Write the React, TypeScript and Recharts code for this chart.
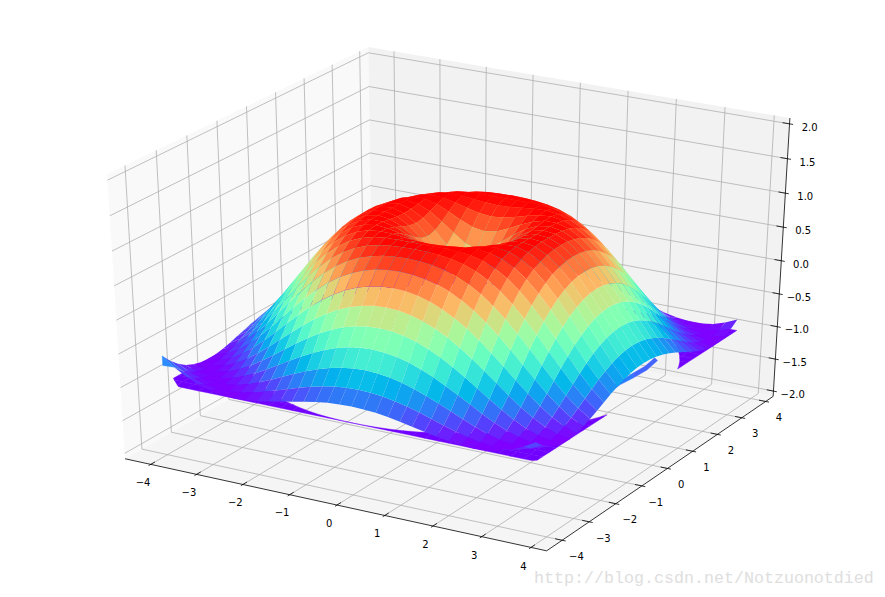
import React from 'react';
import { ScatterChart, Scatter, XAxis, YAxis } from 'recharts';

const WIDTH = 885;
const HEIGHT = 597;

const xTicks = [-4, -3, -2, -1, 0, 1, 2, 3, 4];
const yTicks = [-4, -3, -2, -1, 0, 1, 2, 3, 4];
const zTicks = [-2, -1.5, -1, -0.5, 0, 0.5, 1, 1.5, 2];
const xLim = [-4.3875, 4.1375];
const yLim = [-4.3875, 4.1375];
const zLim = [-2, 2];

const gridValues = [
  -4, -3.75, -3.5, -3.25, -3, -2.75, -2.5, -2.25, -2, -1.75, -1.5, -1.25, -1, -0.75, -0.5, -0.25,
  0, 0.25, 0.5, 0.75, 1, 1.25, 1.5, 1.75, 2, 2.25, 2.5, 2.75, 3, 3.25, 3.5, 3.75,
];

// surface height by |x|/0.25 (row) and |y|/0.25 (column)
const zRows = [
  [0, 0.247, 0.479, 0.682, 0.841, 0.949, 0.997, 0.984, 0.909, 0.778, 0.598, 0.381, 0.141, -0.108, -0.351, -0.572, -0.757],
  [0.247, 0.346, 0.53, 0.711, 0.858, 0.957, 0.999, 0.981, 0.903, 0.769, 0.589, 0.372, 0.131, -0.118, -0.36, -0.579, -0.762],
  [0.479, 0.53, 0.65, 0.784, 0.899, 0.975, 1, 0.969, 0.882, 0.742, 0.558, 0.339, 0.1, -0.146, -0.384, -0.599, -0.776],
  [0.682, 0.711, 0.784, 0.873, 0.949, 0.994, 0.994, 0.945, 0.844, 0.696, 0.507, 0.287, 0.049, -0.192, -0.424, -0.631, -0.8],
  [0.841, 0.858, 0.899, 0.949, 0.988, 1, 0.973, 0.903, 0.787, 0.628, 0.434, 0.214, -0.021, -0.256, -0.478, -0.674, -0.832],
  [0.949, 0.957, 0.975, 0.994, 1, 0.981, 0.928, 0.836, 0.706, 0.537, 0.339, 0.12, -0.108, -0.335, -0.544, -0.725, -0.868],
  [0.997, 0.999, 1, 0.994, 0.973, 0.928, 0.853, 0.742, 0.598, 0.424, 0.224, 0.009, -0.211, -0.424, -0.618, -0.782, -0.904],
  [0.984, 0.981, 0.969, 0.945, 0.903, 0.836, 0.742, 0.618, 0.465, 0.287, 0.09, -0.118, -0.326, -0.522, -0.697, -0.84, -0.941],
  [0.909, 0.903, 0.882, 0.844, 0.787, 0.706, 0.598, 0.465, 0.308, 0.131, -0.06, -0.256, -0.449, -0.625, -0.776, -0.895, -0.971],
  [0.778, 0.769, 0.742, 0.696, 0.628, 0.537, 0.424, 0.287, 0.131, -0.04, -0.22, -0.4, -0.572, -0.725, -0.853, -0.943, -0.993],
  [0.598, 0.589, 0.558, 0.507, 0.434, 0.339, 0.224, 0.09, -0.06, -0.22, -0.384, -0.544, -0.691, -0.818, -0.917, -0.979, -1],
  [0.381, 0.372, 0.339, 0.287, 0.214, 0.12, 0.009, -0.118, -0.256, -0.4, -0.544, -0.68, -0.8, -0.898, -0.966, -0.998, -0.99],
  [0.141, 0.131, 0.1, 0.049, -0.021, -0.108, -0.211, -0.326, -0.449, -0.572, -0.691, -0.8, -0.891, -0.958, -0.995, -0.996, -0.959],
  [-0.108, -0.118, -0.146, -0.192, -0.256, -0.335, -0.424, -0.522, -0.625, -0.725, -0.818, -0.898, -0.958, -0.993, -0.998, -0.97, -0.905],
  [-0.351, -0.36, -0.384, -0.424, -0.478, -0.544, -0.618, -0.697, -0.776, -0.853, -0.917, -0.966, -0.995, -0.998, -0.972, -0.914, -0.825],
  [-0.572, -0.579, -0.599, -0.631, -0.674, -0.725, -0.782, -0.84, -0.895, -0.943, -0.979, -0.998, -0.996, -0.97, -0.914, -0.832, -0.719],
  [-0.757, -0.762, -0.776, -0.8, -0.832, -0.868, -0.904, -0.941, -0.971, -0.993, -1, -0.99, -0.959, -0.905, -0.825, -0.719, -0.584],
];

// filled contour band lying on the plane z = -1
const contourPlane = -1;
const lowBandRange = [-1.01, -0.75];
const lowBandColor = '#7000ff';

// stray blue pieces of the next contour level as (x, y, z)
const sliverLeft = [[3.25, -0.25, -1], [3.23, 0.1, -1], [3.27, 0.53, -1], [3.145, 0.76, -1], [3.13, 0.28, -1], [3.145, -0.13, -1]];
const sliverRight = [[3.27, 0.53, -1], [3.29, 1.02, -1], [3.225, 1.57, -1], [3.105, 1.68, -1], [3.165, 1.18, -1], [3.145, 0.76, -1]];
const cornerWedge = [[-4, -4, -0.584], [-4, -4, -0.73], [-3.75, -4, -0.719]];
const sliverColors = ['#2a7cff', '#4464ff', '#2a8cff'];

const watermark = 'http://blog.csdn.net/Notzuonotdied';

const ELEV = (30 * Math.PI) / 180;
const AZIM = (-60 * Math.PI) / 180;
const DIST = 10;
const n = [Math.cos(ELEV) * Math.cos(AZIM), Math.cos(ELEV) * Math.sin(AZIM), Math.sin(ELEV)];
const u = [-Math.sin(AZIM), Math.cos(AZIM), 0];
const v = [n[1] * u[2] - n[2] * u[1], n[2] * u[0] - n[0] * u[2], n[0] * u[1] - n[1] * u[0]];
const dot = (a: number[], b: number[]) => a[0] * b[0] + a[1] * b[1] + a[2] * b[2];

const unit = (val: number, lim: number[]) => (val - lim[0]) / (lim[1] - lim[0]) - 0.5;

// unit-cube coords -> page pixels, fitted on the pane corners
const projectUnit = (p: number[]) => {
  const w = DIST - dot(n, p);
  return [454.3 + (4672 * dot(u, p)) / w, 290 - (3118 * dot(v, p)) / w];
};
const project = (x: number, y: number, z: number) => projectUnit([unit(x, xLim), unit(y, yLim), unit(z, zLim)]);

const zAt = (x: number, y: number) => zRows[Math.round(Math.abs(x) * 4)][Math.round(Math.abs(y) * 4)];

const rainbow = (t: number) => {
  const r = Math.abs(2 * t - 0.5);
  const g = Math.sin(t * Math.PI);
  const b = Math.cos((t * Math.PI) / 2);
  const c = (a: number) => Math.round(Math.min(1, Math.max(0, a)) * 255);
  return `rgb(${c(r)},${c(g)},${c(b)})`;
};

const mark = (pts: number[][], style: any) => ({
  sx: pts.reduce((s, q) => s + q[0], 0) / pts.length,
  sy: pts.reduce((s, q) => s + q[1], 0) / pts.length,
  pts,
  ...style,
});

// panes
const E = 0.5 + 1 / 48;
const paneItems = [
  mark([[-E, -E, -E], [-E, E, -E], [-E, E, E], [-E, -E, E]].map(projectUnit), { fill: '#f9f9f9' }),
  mark([[-E, E, -E], [E, E, -E], [E, E, E], [-E, E, E]].map(projectUnit), { fill: '#f2f2f2' }),
  mark([[-E, -E, -E], [E, -E, -E], [E, E, -E], [-E, E, -E]].map(projectUnit), { fill: '#f5f5f5' }),
];

// grid lines
const GRID = { stroke: '#b0b0b0', lineWidth: 0.8 };
const gridItems = [
  ...xTicks.map((t) => {
    const a = unit(t, xLim);
    return mark([[a, -E, -E], [a, E, -E], [a, E, E]].map(projectUnit), GRID);
  }),
  ...yTicks.map((t) => {
    const a = unit(t, yLim);
    return mark([[E, a, -E], [-E, a, -E], [-E, a, E]].map(projectUnit), GRID);
  }),
  ...zTicks.map((t) => {
    const a = unit(t, zLim);
    return mark([[-E, -E, a], [-E, E, a], [E, E, a]].map(projectUnit), GRID);
  }),
];

// axis lines and ticks
const AXIS = { stroke: '#000', lineWidth: 0.8 };
const OUT = 0.1 / 12;
const IN = 0.2 / 12;
const axisItems = [
  mark([[-E, -E, -E], [E, -E, -E]].map(projectUnit), AXIS),
  mark([[E, -E, -E], [E, E, -E]].map(projectUnit), AXIS),
  mark([[E, E, -E], [E, E, E]].map(projectUnit), AXIS),
  ...xTicks.map((t) => {
    const a = unit(t, xLim);
    return mark([[a, -E - OUT, -E], [a, -E + IN, -E]].map(projectUnit), AXIS);
  }),
  ...yTicks.map((t) => {
    const a = unit(t, yLim);
    return mark([[E + OUT, a, -E], [E - IN, a, -E]].map(projectUnit), AXIS);
  }),
  ...zTicks.map((t) => {
    const a = unit(t, zLim);
    return mark([[E + OUT, E, a], [E - IN, E, a]].map(projectUnit), AXIS);
  }),
];

// tick labels
const LABEL = 0.0319;
const TICK_TEXT = { fontFamily: '"DejaVu Sans"', fontSize: 10, fill: '#000', anchor: 'middle' };
const fmt = (t: number, digits: number) => t.toFixed(digits).replace('-', '\u2212');
const labelItems = [
  ...xTicks.map((t) => {
    const q = projectUnit([unit(t, xLim), -E - LABEL, -E - LABEL]);
    return { sx: q[0], sy: q[1] + 5, label: fmt(t, 0), ...TICK_TEXT };
  }),
  ...yTicks.map((t) => {
    const q = projectUnit([E + LABEL, unit(t, yLim), -E - LABEL]);
    return { sx: q[0] + 1, sy: q[1] + 5, label: fmt(t, 0), ...TICK_TEXT };
  }),
  ...zTicks.map((t) => {
    const q = projectUnit([E + LABEL, E + LABEL, unit(t, zLim)]);
    return { sx: q[0], sy: q[1] + 5, label: fmt(t, 1), ...TICK_TEXT };
  }),
];

// keep the part of a cell whose height lies between lo and hi
const clipCell = (cell: number[][], lo: number, hi: number) => {
  const clip = (poly: number[][], keep: (h: number) => boolean, level: number) => {
    const out: number[][] = [];
    poly.forEach((a, idx) => {
      const b = poly[(idx + 1) % poly.length];
      if (keep(a[2])) out.push(a);
      if (keep(a[2]) !== keep(b[2])) {
        const f = (level - a[2]) / (b[2] - a[2]);
        out.push([a[0] + f * (b[0] - a[0]), a[1] + f * (b[1] - a[1]), level]);
      }
    });
    return out;
  };
  return clip(clip(cell, (h) => h >= lo, lo), (h) => h <= hi, hi);
};

const cellCorners = (i: number, j: number) =>
  [[i, j], [i + 1, j], [i + 1, j + 1], [i, j + 1]].map(([a, b]) => [gridValues[a], gridValues[b], zAt(gridValues[a], gridValues[b])]);

const bandItems: any[] = [];
const surfaceCells: any[] = [];
for (let i = 0; i < gridValues.length - 1; i += 1) {
  for (let j = 0; j < gridValues.length - 1; j += 1) {
    const corners = cellCorners(i, j);
    const part = clipCell(corners, lowBandRange[0], lowBandRange[1]);
    if (part.length > 2) {
      bandItems.push(mark(part.map((q) => project(q[0], q[1], contourPlane)), { fill: lowBandColor, stroke: lowBandColor, lineWidth: 0.4 }));
    }
    const mean = corners.reduce((s, q) => s + q[2], 0) / 4;
    const pc = [0, 1, 2, 3].map((k) => [unit(corners[k][0], xLim), unit(corners[k][1], yLim), unit(corners[k][2], zLim)]);
    const depth = pc.reduce((s, q) => s + dot(n, q), 0) / 4;
    surfaceCells.push({ mean, depth, pts: pc.map(projectUnit) });
  }
}
[sliverLeft, sliverRight, cornerWedge].forEach((outline, idx) => {
  bandItems.push(mark(outline.map((q) => project(q[0], q[1], q[2])), { fill: sliverColors[idx], stroke: sliverColors[idx], lineWidth: 0.3 }));
});

const means = surfaceCells.map((c) => c.mean);
const zMin = Math.min(...means);
const zMax = Math.max(...means);
const surfaceItems = surfaceCells
  .sort((a, b) => a.depth - b.depth)
  .map((c) => mark(c.pts, { fill: rainbow((c.mean - zMin) / (zMax - zMin)) }));

const watermarkItems = [
  { sx: 534, sy: 583, label: watermark, fontFamily: '"Liberation Mono"', fontSize: 16.67, fill: '#dedede', anchor: 'start', baseline: 'auto' },
];

const MarkShape = (props: any) => {
  const { cx, cy, payload } = props;
  if (payload.label !== undefined) {
    return (
      <text
        x={cx}
        y={cy}
        textAnchor={payload.anchor}
        dominantBaseline={payload.baseline || 'central'}
        fontFamily={payload.fontFamily}
        fontSize={payload.fontSize}
        fill={payload.fill}
      >
        {payload.label}
      </text>
    );
  }
  const points = payload.pts.map((q: number[]) => `${cx + q[0] - payload.sx},${cy + q[1] - payload.sy}`).join(' ');
  if (payload.fill) {
    return <polygon points={points} fill={payload.fill} stroke={payload.stroke || 'none'} strokeWidth={payload.lineWidth || 0} />;
  }
  return <polyline points={points} fill="none" stroke={payload.stroke} strokeWidth={payload.lineWidth} />;
};

const layers = [paneItems, gridItems, axisItems, labelItems, bandItems, surfaceItems, watermarkItems];

const App: React.FC = () => (
  <div style={{ position: 'absolute', left: 0, top: 0, width: WIDTH, height: HEIGHT, background: '#fff' }}>
    <ScatterChart width={WIDTH} height={HEIGHT} margin={{ top: 0, right: 0, bottom: 0, left: 0 }}>
      <XAxis type="number" dataKey="sx" domain={[0, WIDTH]} hide allowDataOverflow />
      <YAxis type="number" dataKey="sy" domain={[0, HEIGHT]} reversed hide allowDataOverflow />
      {layers.map((items, idx) => (
        <Scatter key={idx} data={items} shape={MarkShape} isAnimationActive={false} />
      ))}
    </ScatterChart>
  </div>
);

export default App;
